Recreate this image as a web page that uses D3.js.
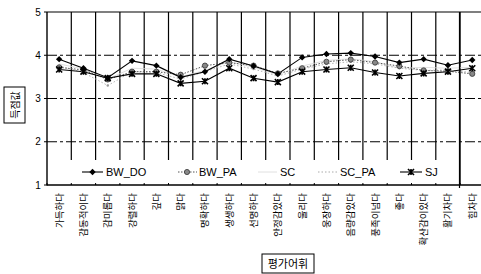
<!DOCTYPE html>
<html><head><meta charset="utf-8">
<script src="https://cdn.jsdelivr.net/npm/d3@7"></script>
<style>
html,body{margin:0;padding:0;background:#fff;}
svg{display:block;font-family:"Liberation Sans",Arial,"Noto Sans CJK KR",sans-serif;}
.kr{font-family:"Noto Sans CJK KR",sans-serif;}
</style></head><body>
<svg id="c" width="481" height="274"></svg>
<script>
const categories = ["가득하다","감동적이다","감미롭다","강렬하다","깊다","맑다","명확하다","생생하다","선명하다","안정감있다","울리다","웅장하다","음량감있다","풍족이넘다","좋다","확산감이있다","활기차다","힘차다"];
const seriesNames = ["BW_DO","BW_PA","SC","SC_PA","SJ"];
const bwDO = [3.91,3.70,3.48,3.87,3.76,3.49,3.62,3.91,3.75,3.57,3.95,4.03,4.05,3.97,3.83,3.91,3.77,3.89];
const bwPA = [3.72,3.66,3.44,3.62,3.62,3.55,3.76,3.83,3.76,3.58,3.70,3.85,3.90,3.83,3.75,3.65,3.63,3.57];
const sc   = [3.80,3.68,3.45,3.70,3.68,3.50,3.65,3.85,3.72,3.55,3.75,3.88,3.92,3.85,3.70,3.72,3.70,3.72];
const scPA = [3.75,3.60,3.30,3.62,3.60,3.45,3.62,3.80,3.68,3.52,3.68,3.80,3.85,3.80,3.70,3.65,3.66,3.60];
const sj   = [3.67,3.62,3.47,3.57,3.57,3.35,3.40,3.70,3.47,3.38,3.62,3.67,3.71,3.60,3.52,3.58,3.62,3.70];
const yTicks = [1,2,3,4,5];
const yTitle = "득점값";
const xTitle = "평가어휘";

const svg = d3.select("#c");
const L = 47, R = 484.4, T = 12, B = 185;
const x = d3.scaleBand().domain(categories).range([L, R]);
const y = d3.scaleLinear().domain([1,5]).range([B, T]);
const cx = d => x(d) + x.bandwidth()/2;

// horizontal gridlines
[2,3,4].forEach(v=>{
  svg.append("line").attr("x1",L).attr("x2",481).attr("y1",y(v)).attr("y2",y(v))
    .attr("stroke","#000").attr("stroke-width",1).attr("stroke-dasharray","10,3,3,3");
});
// top border
svg.append("line").attr("x1",L).attr("x2",481).attr("y1",y(5)).attr("y2",y(5)).attr("stroke","#000").attr("stroke-width",1.2);
// vertical gridlines
categories.slice(1).forEach((c,i)=>{
  svg.append("line").attr("x1",x(c)).attr("x2",x(c)).attr("y1",T).attr("y2",B)
    .attr("stroke","#000").attr("stroke-width",1.2);
});

// series lines
const line = d3.line().x((d,i)=>cx(categories[i])).y(d=>y(d));
function drawSeries(vals, stroke, dash, width){
  svg.append("path").datum(vals).attr("d",line).attr("fill","none")
    .attr("stroke",stroke).attr("stroke-width",width).attr("stroke-dasharray",dash);
}
drawSeries(sc, "#d8d8d8", null, 0.8);
drawSeries(scPA, "#aaa", "1.5,2", 0.9);
drawSeries(bwPA, "#555", "1.5,1.5", 1);
drawSeries(bwDO, "#000", null, 1.1);
drawSeries(sj, "#000", null, 1.1);

function diamond(g, px, py, s){ g.append("path").attr("d",`M${px},${py-s}L${px+s},${py}L${px},${py+s}L${px-s},${py}Z`).attr("fill","#000"); }
function circ(g, px, py, r){ g.append("circle").attr("cx",px).attr("cy",py).attr("r",r).attr("fill","#888").attr("stroke","#333").attr("stroke-width",0.8); }
function star(g, px, py, s){
  g.append("path").attr("d",`M${px-s},${py-s}L${px+s},${py+s}M${px-s},${py+s}L${px+s},${py-s}M${px},${py-s}L${px},${py+s}`)
   .attr("stroke","#000").attr("stroke-width",1.6);
}
const mg = svg.append("g");
scPA.forEach((v,i)=>{ mg.append("circle").attr("cx",cx(categories[i])).attr("cy",y(v)).attr("r",1.2).attr("fill","#999"); });
bwPA.forEach((v,i)=>circ(mg, cx(categories[i]), y(v), 2.6));
bwDO.forEach((v,i)=>diamond(mg, cx(categories[i]), y(v), 3.2));
sj.forEach((v,i)=>star(mg, cx(categories[i]), y(v), 3));

// legend box (white, covering gridlines)
svg.append("rect").attr("x",L+1).attr("y",160).attr("width",459-L-1.5).attr("height",B-160-0.5).attr("fill","#fff");
svg.append("line").attr("x1",459.5).attr("x2",459.5).attr("y1",T).attr("y2",188).attr("stroke","#000").attr("stroke-width",1.2);

const lg = svg.append("g").attr("font-size",11);
const ly = 172;
// BW_DO
lg.append("line").attr("x1",82).attr("x2",103).attr("y1",ly).attr("y2",ly).attr("stroke","#000").attr("stroke-width",1.1);
diamond(lg, 92.5, ly, 3.2);
lg.append("text").attr("x",106).attr("y",ly+4).text(seriesNames[0]);
// BW_PA
lg.append("line").attr("x1",178).attr("x2",197).attr("y1",ly).attr("y2",ly).attr("stroke","#555").attr("stroke-dasharray","1.5,1.5");
circ(lg, 187, ly, 2.6);
lg.append("text").attr("x",199).attr("y",ly+4).text(seriesNames[1]);
// SC
lg.append("line").attr("x1",258).attr("x2",277).attr("y1",ly).attr("y2",ly).attr("stroke","#d8d8d8").attr("stroke-width",0.8);
lg.append("text").attr("x",280).attr("y",ly+4).text(seriesNames[2]);
// SC_PA
lg.append("line").attr("x1",318).attr("x2",337).attr("y1",ly).attr("y2",ly).attr("stroke","#aaa").attr("stroke-dasharray","1.5,2");
lg.append("text").attr("x",340).attr("y",ly+4).text(seriesNames[3]);
// SJ
lg.append("line").attr("x1",400).attr("x2",422).attr("y1",ly).attr("y2",ly).attr("stroke","#000").attr("stroke-width",1.1);
star(lg, 411, ly, 3);
lg.append("text").attr("x",425).attr("y",ly+4).text(seriesNames[4]);

// axes
svg.append("line").attr("x1",L).attr("x2",L).attr("y1",T).attr("y2",B+0.5).attr("stroke","#000").attr("stroke-width",1.4);
svg.append("line").attr("x1",L).attr("x2",481).attr("y1",B).attr("y2",B).attr("stroke","#000").attr("stroke-width",1.4);
const ya = svg.append("g").attr("font-size",10);
yTicks.forEach(v=>{
  ya.append("line").attr("x1",L-3).attr("x2",L).attr("y1",y(v)).attr("y2",y(v)).attr("stroke","#000");
  ya.append("text").attr("x",38).attr("y",y(v)+3.5).attr("text-anchor","middle").text(v);
});
categories.forEach(c=>{
  svg.append("line").attr("x1",x(c)).attr("x2",x(c)).attr("y1",B).attr("y2",B-2).attr("stroke","#000");
});
// category labels
categories.forEach(c=>{
  svg.append("text").attr("class","kr").attr("font-size",9.5)
    .attr("transform",`translate(${cx(c)+3.5},193) rotate(-90)`)
    .attr("text-anchor","end").text(c);
});
// axis titles
svg.append("rect").attr("x",4).attr("y",87).attr("width",21).attr("height",36).attr("fill","#fff").attr("stroke","#000");
svg.append("text").attr("class","kr").attr("font-size",10)
  .attr("transform","translate(18.5,105) rotate(-90)").attr("text-anchor","middle").text(yTitle);
svg.append("rect").attr("x",262).attr("y",254).attr("width",52).attr("height",19).attr("fill","#fff").attr("stroke","#000");
svg.append("text").attr("class","kr").attr("font-size",11).attr("x",288).attr("y",268).attr("text-anchor","middle").text(xTitle);
</script></body></html>
